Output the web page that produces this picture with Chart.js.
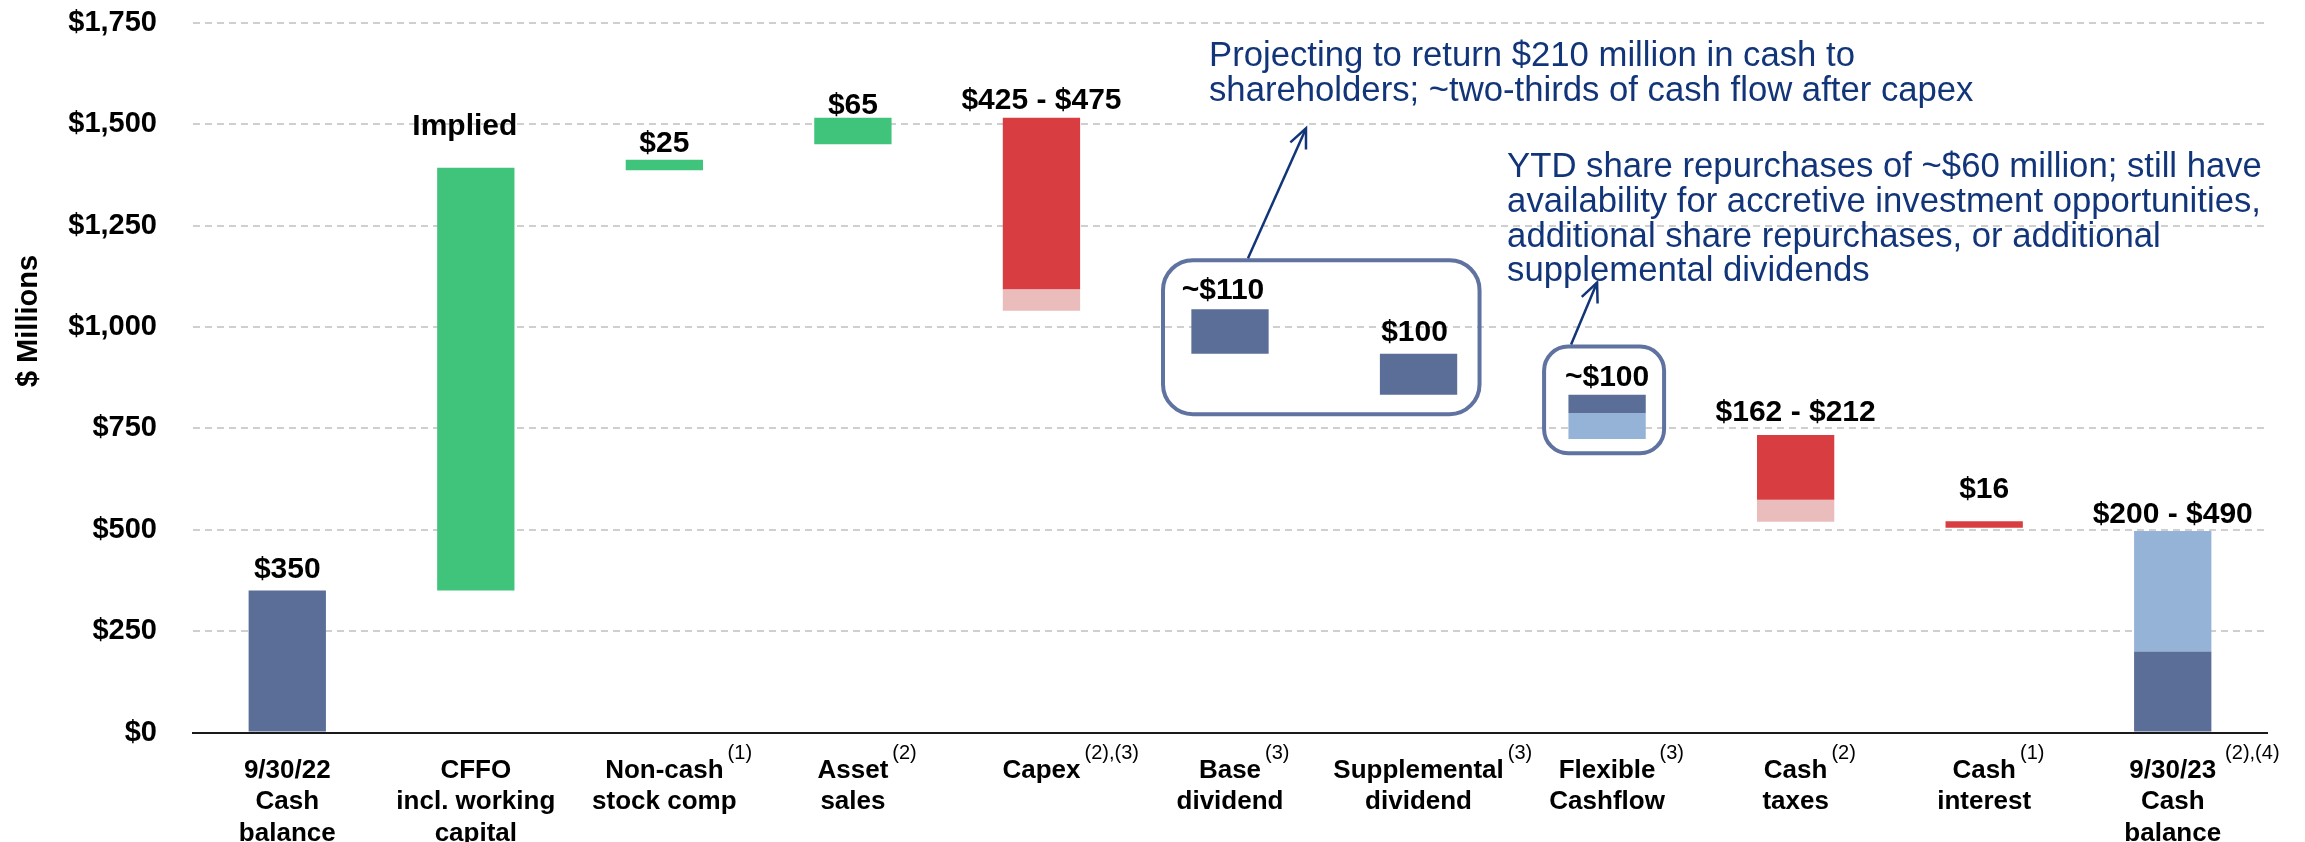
<!DOCTYPE html>
<html><head><meta charset="utf-8">
<script src="https://cdn.jsdelivr.net/npm/chart.js@4.4.0/dist/chart.umd.min.js"></script>
<style>html,body{margin:0;padding:0;background:#fff;}canvas{display:block;}</style>
</head><body>
<canvas id="c" width="2305" height="842"></canvas>
<script>
const FONT = '"Liberation Sans", Arial, Helvetica, sans-serif';

// ---- data ----
const categories = [
  ["9/30/22", "Cash", "balance"],
  ["CFFO", "incl. working", "capital"],
  ["Non-cash", "stock comp"],
  ["Asset", "sales"],
  ["Capex"],
  ["Base", "dividend"],
  ["Supplemental", "dividend"],
  ["Flexible", "Cashflow"],
  ["Cash", "taxes"],
  ["Cash", "interest"],
  ["9/30/23", "Cash", "balance"]
];
const footnotes = ["", "", "(1)", "(2)", "(2),(3)", "(3)", "(3)", "(3)", "(2)", "(1)", "(2),(4)"];
const valueLabels = ["$350", "Implied", "$25", "$65", "$425 - $475", "~$110", "$100", "~$100", "$162 - $212", "$16", "$200 - $490"];
const balanceBars      = [[0, 350], null, null, null, null, [934, 1044], [833, 934], [788, 833], null, null, [0, 200]];
const balanceRangeBars = [null, null, null, null, null, null, null, [724, 788], null, null, [200, 497]];
const increaseBars     = [null, [350, 1393], [1387, 1413], [1451, 1516], null, null, null, null, null, null, null];
const decreaseBars     = [null, null, null, null, [1093, 1516], null, null, null, [574, 734], [505, 521], null];
const decreaseRangeBars= [null, null, null, null, [1040, 1093], null, null, null, [520, 574], null, null];
const yTickValues = [0, 250, 500, 750, 1000, 1250, 1500, 1750];
const note1 = ["Projecting to return $210 million in cash to", "shareholders; ~two-thirds of cash flow after capex"];
const note2 = ["YTD share repurchases of ~$60 million; still have", "availability for accretive investment opportunities,", "additional share repurchases, or additional", "supplemental dividends"];
const yTitle = "$ Millions";

// ---- styles ----
const NAVY = '#5b6e98', LIGHTBLUE = '#95b3d7', GREEN = '#40c37b', RED = '#d83e41', PINK = '#ebbcbc';
const NOTE = '#12357a', BOX = '#5f72a0';
const labelOffsets = {0: 13, 1: 33, 2: 8, 3: 4, 4: 9, 5: 10, 6: 13, 7: 9, 8: 14, 9: 23, 10: 8};
const labelShift = {1: -11, 5: -7, 6: -4};

function rrect(ctx, x, y, w, h, r) {
  ctx.beginPath();
  ctx.moveTo(x + r, y);
  ctx.lineTo(x + w - r, y); ctx.arcTo(x + w, y, x + w, y + r, r);
  ctx.lineTo(x + w, y + h - r); ctx.arcTo(x + w, y + h, x + w - r, y + h, r);
  ctx.lineTo(x + r, y + h); ctx.arcTo(x, y + h, x, y + h - r, r);
  ctx.lineTo(x, y + r); ctx.arcTo(x, y, x + r, y, r);
  ctx.closePath(); ctx.stroke();
}
function arrow(ctx, x1, y1, x2, y2) {
  ctx.beginPath(); ctx.moveTo(x1, y1); ctx.lineTo(x2, y2); ctx.stroke();
  const a = Math.atan2(y2 - y1, x2 - x1), L = 21, sp = 0.42;
  ctx.beginPath();
  ctx.moveTo(x2 - L * Math.cos(a - sp), y2 - L * Math.sin(a - sp));
  ctx.lineTo(x2, y2);
  ctx.lineTo(x2 - L * Math.cos(a + sp), y2 - L * Math.sin(a + sp));
  ctx.stroke();
}

const decor = {
  id: 'decor',
  afterDatasetsDraw(chart) {
    const ctx = chart.ctx, xs = chart.scales.x, ys = chart.scales.y;
    const X = i => xs.getPixelForValue(i), Y = v => ys.getPixelForValue(v);
    ctx.save();
    // value labels
    ctx.font = 'bold 30px ' + FONT; ctx.fillStyle = '#000'; ctx.textAlign = 'center'; ctx.textBaseline = 'alphabetic';
    valueLabels.forEach((t, i) => {
      let top = Infinity;
      chart.data.datasets.forEach((d, di) => {
        const el = chart.getDatasetMeta(di).data[i];
        if (d.data[i] && el) top = Math.min(top, el.y, el.base);
      });
      ctx.fillText(t, X(i) + (labelShift[i] || 0), top - labelOffsets[i]);
    });
    // footnote superscripts
    ctx.textAlign = 'left';
    footnotes.forEach((f, i) => {
      if (!f) return;
      ctx.font = 'bold 26px ' + FONT;
      const w = ctx.measureText(categories[i][0]).width;
      ctx.font = '20px ' + FONT;
      ctx.fillText(f, X(i) + w / 2 + (i === 10 ? 9 : 4), 759);
    });
    // y title
    ctx.save();
    ctx.translate(29, 321); ctx.rotate(-Math.PI / 2);
    ctx.font = 'bold 29px ' + FONT; ctx.textAlign = 'center'; ctx.textBaseline = 'middle';
    ctx.fillText(yTitle, 0, 0);
    ctx.restore();
    // boxes
    ctx.strokeStyle = BOX; ctx.lineWidth = 4;
    rrect(ctx, X(5) - 67, Y(1165), X(6) + 61 - (X(5) - 67), Y(785) - Y(1165), 30);
    rrect(ctx, X(7) - 63, Y(952), 120, Y(689) - Y(952), 24);
    // arrows
    ctx.strokeStyle = NOTE; ctx.lineWidth = 2.5;
    arrow(ctx, X(5) + 18, Y(1165) - 2, X(5) + 76, Y(1490));
    arrow(ctx, X(7) - 36, Y(952) - 2, X(7) - 10, Y(1110));
    // notes
    ctx.fillStyle = NOTE; ctx.font = '34.7px ' + FONT; ctx.textAlign = 'left'; ctx.textBaseline = 'alphabetic';
    note1.forEach((t, k) => ctx.fillText(t, X(5) - 21, 66 + k * 34.5));
    note2.forEach((t, k) => ctx.fillText(t, X(7) - 100, 177 + k * 34.8));
    ctx.restore();
  }
};

new Chart(document.getElementById('c'), {
  type: 'bar',
  data: {
    labels: categories,
    datasets: [
      { label: 'Balance', data: balanceBars, backgroundColor: NAVY },
      { label: 'Balance range', data: balanceRangeBars, backgroundColor: LIGHTBLUE },
      { label: 'Increase', data: increaseBars, backgroundColor: GREEN },
      { label: 'Decrease', data: decreaseBars, backgroundColor: RED },
      { label: 'Decrease range', data: decreaseRangeBars, backgroundColor: PINK }
    ]
  },
  options: {
    responsive: false, devicePixelRatio: 1, animation: false,
    layout: { padding: { top: 23, right: 38, left: 0, bottom: 0 } },
    datasets: { bar: { grouped: false, barPercentage: 0.41, categoryPercentage: 1, borderWidth: 0 } },
    plugins: { legend: { display: false }, tooltip: { enabled: false } },
    scales: {
      x: {
        grid: { display: false, drawTicks: false },
        border: { display: true, color: '#1a1a1a', width: 2 },
        ticks: { font: { family: FONT, size: 26, weight: 'bold', lineHeight: 1.2 }, color: '#000', padding: 23, maxRotation: 0, autoSkip: false },
        afterFit(s) { s.height = 842 - 732.5; s.paddingLeft = 0; s.paddingRight = 0; }
      },
      y: {
        min: 0, max: 1750,
        afterBuildTicks(s) { s.ticks = yTickValues.map(v => ({ value: v })); },
        ticks: { callback: v => '$' + v.toLocaleString('en-US'), font: { family: FONT, size: 29, weight: 'bold' }, color: '#000', padding: 36 },
        grid: { color: c => (c.tick && c.tick.value === 0) ? 'rgba(0,0,0,0)' : '#cfcfcf', lineWidth: 2, drawTicks: false },
        border: { display: false, dash: [7, 5] },
        afterFit(s) { s.width = 193; s.paddingTop = 0; s.paddingBottom = 0; }
      }
    }
  },
  plugins: [decor]
});
</script>
</body></html>
